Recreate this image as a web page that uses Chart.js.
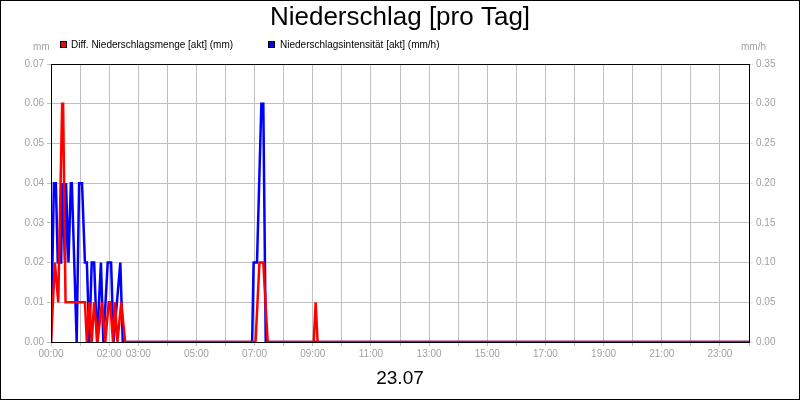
<!DOCTYPE html>
<html>
<head>
<meta charset="utf-8">
<script src="https://cdn.jsdelivr.net/npm/chart.js@4"></script>
<style>
  body { margin: 0; background: #fff; }
  #wrap { width: 800px; height: 400px; position: relative; }
</style>
</head>
<body>
<div id="wrap"><canvas id="mycanvas" width="800" height="400"></canvas></div>
<script>
// minutes after midnight and values
var mengeTimes = [0, 1, 8, 15, 23, 25, 30, 70, 74, 79, 84, 89, 96, 105, 112, 119, 122, 128, 132, 137, 145, 153, 422, 430, 438, 447, 542, 546, 550, 1440];
var mengeValues = [0, 0, 0.02, 0.01, 0.06, 0.06, 0.01, 0.01, 0, 0.01, 0, 0.01, 0, 0.01, 0, 0.01, 0.01, 0, 0.01, 0, 0.01, 0, 0, 0.02, 0.02, 0, 0, 0.01, 0, 0];
var intensTimes = [0, 6, 10, 14, 21, 23, 29, 31, 36, 41, 43, 53, 58, 64, 70, 74, 79, 84, 89, 95, 103, 108, 117, 124, 129, 143, 148, 415, 418, 425, 434, 438, 443, 1440];
var intensValues = [0, 0.2, 0.2, 0.1, 0.1, 0.2, 0.1, 0.2, 0.1, 0.2, 0.2, 0, 0.2, 0.2, 0.1, 0.1, 0, 0.1, 0.1, 0, 0.1, 0, 0.1, 0.1, 0, 0.1, 0, 0, 0.1, 0.1, 0.3, 0.3, 0, 0];
var hourLabels = [0, 2, 3, 5, 7, 9, 11, 13, 15, 17, 19, 21, 23];

function pts(t, v) {
  var out = [];
  for (var i in t) out.push({x: t[i], y: v[i]});
  return out;
}

var decor = {
  id: 'decor',
  afterDraw: function(chart) {
    var c = chart.ctx;
    c.save();
    c.fillStyle = '#000';
    c.textAlign = 'center';
    c.textBaseline = 'middle';
    c.font = '26px "Liberation Sans", Arial';
    c.fillText('Niederschlag [pro Tag]', 400, 18);
    c.font = '19px "Liberation Sans", Arial';
    c.fillText('23.07', 400, 379);
    c.font = '10px "Liberation Sans", Arial';
    c.fillStyle = '#a0a0a0';
    c.textAlign = 'left';
    c.fillText('mm', 33, 47);
    c.textAlign = 'right';
    c.fillText('mm/h', 766, 47);
    c.textAlign = 'left';
    c.fillStyle = '#000';
    c.fillRect(60, 41, 7, 7);
    c.fillText('Diff. Niederschlagsmenge [akt] (mm)', 71, 45);
    c.fillRect(268, 41, 7, 7);
    c.fillText('Niederschlagsintensität [akt] (mm/h)', 280, 45);
    c.fillStyle = '#ff0000';
    c.fillRect(61, 42, 5, 5);
    c.fillStyle = '#0000ff';
    c.fillRect(269, 42, 5, 5);
    var a = chart.chartArea;
    c.strokeStyle = '#000';
    c.lineWidth = 1;
    c.strokeRect(a.left + 0.5, a.top + 0.5, a.right - a.left, a.bottom - a.top);
    c.strokeRect(0.5, 0.5, 799, 399);
    c.restore();
  }
};

var tickFont = {family: '"Liberation Sans", Arial', size: 10};

new Chart(document.getElementById('mycanvas'), {
  type: 'line',
  data: {
    datasets: [
      {label: 'Diff. Niederschlagsmenge [akt] (mm)', data: pts(mengeTimes, mengeValues), borderColor: '#ff0000', borderWidth: 2.5, pointRadius: 0, yAxisID: 'y'},
      {label: 'Niederschlagsintensität [akt] (mm/h)', data: pts(intensTimes, intensValues), borderColor: '#0000ff', borderWidth: 2.5, pointRadius: 0, yAxisID: 'y1'}
    ]
  },
  options: {
    responsive: false,
    animation: false,
    layout: {padding: {top: 64, left: 0, right: 0, bottom: 0}},
    plugins: {legend: {display: false}, tooltip: {enabled: false}},
    scales: {
      x: {
        type: 'linear', min: 0, max: 1440,
        afterFit: function(s) { s.height = 58; },
        afterBuildTicks: function(s) { s.ticks = []; for (var h = 0; h <= 24; h++) s.ticks.push({value: h * 60}); },
        ticks: {
          autoSkip: false, maxRotation: 0, color: '#a0a0a0', font: tickFont, padding: 2,
          callback: function(v) { var h = v / 60; return hourLabels.indexOf(h) >= 0 ? (h < 10 ? '0' : '') + h + ':00' : ''; }
        },
        grid: {color: '#c0c0c0', tickLength: 4},
        border: {color: '#000'}
      },
      y: {
        position: 'left', min: 0, max: 0.07,
        afterFit: function(s) { s.width = 51; },
        ticks: {stepSize: 0.01, color: '#a0a0a0', font: tickFont, callback: function(v) { return v.toFixed(2); }},
        grid: {color: '#c0c0c0', tickLength: 4},
        border: {color: '#000'}
      },
      y1: {
        position: 'right', min: 0, max: 0.35,
        afterFit: function(s) { s.width = 51; },
        ticks: {stepSize: 0.05, color: '#a0a0a0', font: tickFont, callback: function(v) { return v.toFixed(2); }},
        grid: {drawOnChartArea: false, tickLength: 4},
        border: {color: '#000'}
      }
    }
  },
  plugins: [decor]
});
</script>
</body>
</html>
